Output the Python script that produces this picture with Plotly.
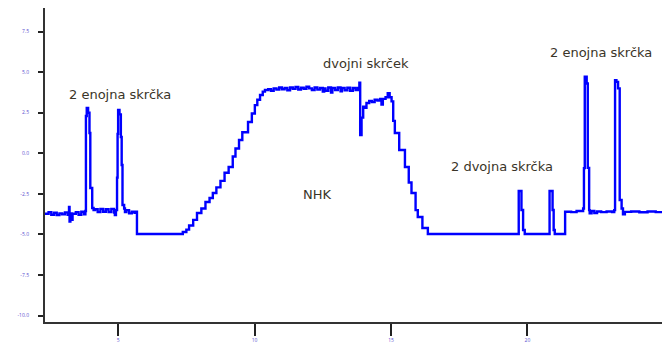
import plotly.graph_objects as go

# signal samples (time, value)
time = [
    2.32, 2.45, 2.55, 2.65, 2.75, 2.85, 2.95, 3.05, 3.15, 3.20, 3.22, 3.25, 3.30, 3.33, 3.45, 3.55, 3.65, 3.75, 3.80,
    3.82, 3.85, 3.90, 3.95, 3.98, 4.05, 4.10, 4.15,
    4.25, 4.35, 4.45, 4.55, 4.65, 4.75, 4.85, 4.88, 4.92,
    4.96, 4.98, 5.00, 5.05, 5.10, 5.13, 5.16, 5.22, 5.25, 5.30, 5.40, 5.50, 5.60, 5.68, 5.69,
    6.50, 7.19, 7.37, 7.50,
    7.60, 7.75, 7.89, 8.05, 8.20, 8.35, 8.47, 8.60, 8.75, 8.90, 9.05, 9.20, 9.30, 9.43, 9.55, 9.76, 9.90,
    10.01, 10.10, 10.20, 10.30, 10.38,
    10.50, 10.60, 10.70, 10.80, 10.90, 11.00, 11.10, 11.20, 11.30, 11.40, 11.50, 11.60, 11.70, 11.80, 11.90,
    12.00, 12.10, 12.20, 12.30, 12.40, 12.50, 12.55, 12.60, 12.70, 12.80, 12.85, 12.95, 13.05, 13.15, 13.20,
    13.30, 13.40, 13.50, 13.60, 13.70, 13.79, 13.84, 13.87, 13.92, 13.98, 14.04, 14.10, 14.20, 14.30, 14.40,
    14.50, 14.60, 14.65, 14.70, 14.80, 14.88, 14.95, 15.02, 15.08, 15.14, 15.30, 15.51, 15.65, 15.75, 15.90,
    15.98, 16.15, 16.35,
    19.66, 19.68, 19.75, 19.78, 19.84, 19.90, 20.79, 20.81, 20.88, 20.92, 20.96, 21.00, 21.37,
    21.38, 21.60, 21.80, 22.00, 22.04, 22.07, 22.10, 22.14, 22.17, 22.21, 22.26, 22.28, 22.35, 22.45, 22.55,
    22.70, 22.90, 23.10, 23.18, 23.21, 23.26, 23.32, 23.38, 23.45, 23.50, 23.57, 23.80, 24.10, 24.40, 24.70, 24.93,
]
signal = [
    -3.72, -3.62, -3.78, -3.66, -3.80, -3.70, -3.76, -3.64, -3.78, -3.30, -4.20, -3.70, -4.10, -3.72, -3.62, -3.78, -3.60, -3.75, -3.55,
    2.30, 2.79, 2.50, 1.25, -2.14, -3.37, -3.50, -3.45,
    -3.62, -3.42, -3.60, -3.45, -3.62, -3.42, -3.65, -3.80, -3.50,
    -1.50, 1.20, 2.67, 2.40, 1.00, -0.72, -3.18, -3.40, -3.62, -3.50, -3.70, -3.60, -3.66, -3.60, -4.97,
    -4.97, -4.97, -4.85, -4.70,
    -4.45, -4.10, -3.68, -3.40, -3.00, -2.75, -2.44, -2.10, -1.70, -1.20, -0.84, -0.20, 0.30, 0.82, 1.30, 1.93, 2.45,
    2.97, 3.30, 3.59, 3.80, 3.90,
    3.95, 3.85, 4.00, 3.92, 4.05, 3.95, 4.02, 3.88, 4.05, 3.97, 4.08, 3.93, 4.04, 3.98, 4.10,
    4.00, 3.90, 4.05, 3.92, 4.02, 3.80, 4.00, 3.85, 4.05, 3.75, 4.02, 3.90, 4.05, 3.82, 4.02,
    3.88, 4.04, 3.85, 4.02, 3.90, 4.02, 4.35, 1.13, 2.20, 2.87, 2.80, 3.10, 3.22, 3.15, 3.30,
    3.25, 3.35, 3.00, 3.35, 3.45, 3.71, 3.45, 3.20, 2.00, 1.25, 0.20, -0.84, -1.80, -2.44, -3.50,
    -3.92, -4.60, -4.97,
    -4.97, -2.32, -2.32, -3.49, -4.72, -4.97, -4.97, -2.32, -2.32, -3.49, -4.72, -4.97, -4.97,
    -3.60, -3.62, -3.55, -3.55, -3.40, -0.91, 4.72, 4.72, 4.30, -0.90, -3.50, -3.70, -3.55, -3.68, -3.58,
    -3.62, -3.58, -3.62, -3.50, 4.51, 4.40, 4.00, -2.88, -3.40, -3.75, -3.61, -3.58, -3.63, -3.58, -3.62, -3.60,
]

x_ticks = [5, 10, 15, 20]
x_tick_labels = ["5", "10", "15", "20"]
y_ticks = [7.5, 5.0, 2.5, 0.0, -2.5, -5.0, -7.5, -10.0]
y_tick_labels = ["7.5", "5.0", "2.5", "0.0", "-2.5", "-5.0", "-7.5", "-10.0"]

notes = [
    ("2 enojna skrčka", 5.07, 3.65),
    ("dvojni skrček", 14.08, 5.56),
    ("NHK", 12.32, -2.51),
    ("2 dvojna skrčka", 19.06, -0.84),
    ("2 enojna skrčka", 22.69, 6.18),
]

fig = go.Figure()
fig.add_trace(go.Scatter(x=time, y=signal, mode="lines",
                         line=dict(color="#0000ff", width=2.4, shape="hv"), showlegend=False,
                         hoverinfo="skip"))

for text, x, y in notes:
    fig.add_annotation(x=x, y=y, text=text, showarrow=False,
                       font=dict(family="DejaVu Sans", size=13, color="#3a3528"))

fig.update_layout(
    width=662, height=345,
    margin=dict(l=45, r=0, t=8, b=23),
    paper_bgcolor="white", plot_bgcolor="white",
    xaxis=dict(range=[2.32, 24.93], tickvals=x_ticks, ticktext=x_tick_labels,
               showgrid=False, zeroline=False, showline=True, linecolor="#333333", linewidth=2,
               ticks="outside", ticklen=12, tickwidth=2, tickcolor="#222222",
               tickfont=dict(size=5, color="#5a50d0")),
    yaxis=dict(range=[-10.39, 8.95], tickvals=y_ticks, ticktext=y_tick_labels,
               showgrid=False, zeroline=False, showline=True, linecolor="#333333", linewidth=2,
               ticks="outside", ticklen=5, tickwidth=2, tickcolor="#222222",
               tickfont=dict(size=5, color="#5a50d0"), ticklabelstandoff=8),
)

fig.write_html("out.html")
